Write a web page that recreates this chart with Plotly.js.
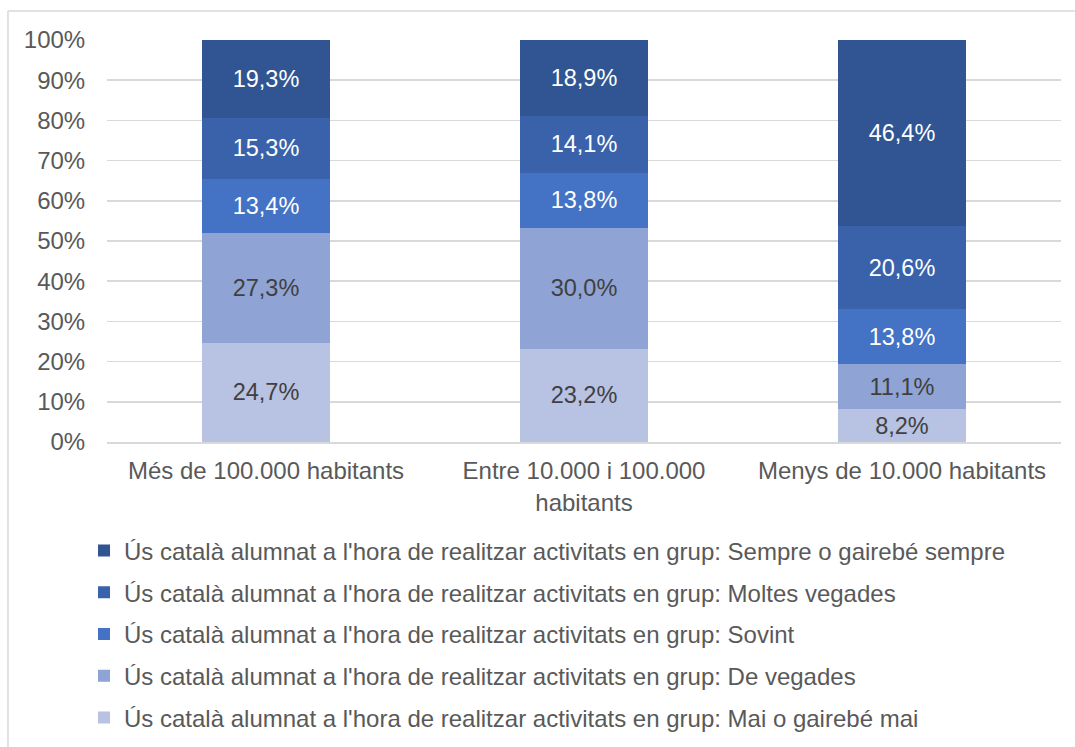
<!DOCTYPE html>
<html>
<head>
<meta charset="utf-8">
<script src="https://cdn.plot.ly/plotly-3.0.1.min.js"></script>
<style>html,body{margin:0;padding:0;background:#fff;}#chart{width:1075px;height:747px;}</style>
</head>
<body>
<div id="chart"></div>
<script>
const categories = ['Més de 100.000 habitants', 'Entre 10.000 i 100.000<br>habitants', 'Menys de 10.000 habitants'];
const seriesNames = [
  "Ús català alumnat a l'hora de realitzar activitats en grup: Mai o gairebé mai",
  "Ús català alumnat a l'hora de realitzar activitats en grup: De vegades",
  "Ús català alumnat a l'hora de realitzar activitats en grup: Sovint",
  "Ús català alumnat a l'hora de realitzar activitats en grup: Moltes vegades",
  "Ús català alumnat a l'hora de realitzar activitats en grup: Sempre o gairebé sempre"
];
const maiValues = [24.7, 23.2, 8.2];
const deVegadesValues = [27.3, 30.0, 11.1];
const sovintValues = [13.4, 13.8, 13.8];
const moltesValues = [15.3, 14.1, 20.6];
const sempreValues = [19.3, 18.9, 46.4];
const yTickVals = [0,10,20,30,40,50,60,70,80,90,100];
const yTickText = ['0%','10%','20%','30%','40%','50%','60%','70%','80%','90%','100%'];

const seriesValues = [maiValues, deVegadesValues, sovintValues, moltesValues, sempreValues];
const colors = ['#B8C2E3', '#8FA3D5', '#4472C4', '#3A62AB', '#305592'];
const textColors = ['#404040', '#404040', '#FFFFFF', '#FFFFFF', '#FFFFFF'];
const FONT = '"Liberation Sans", Arial, sans-serif';

const traces = seriesValues.map((vals, i) => ({
  type: 'bar',
  name: seriesNames[i],
  x: categories,
  y: vals,
  legendgroup: 'g' + i,
  legendrank: 10 - i,
  marker: {color: colors[i], line: {width: 0}},
  texttemplate: '%{y:.1f}%',
  textposition: 'inside',
  insidetextanchor: 'middle',
  textangle: 0,
  constraintext: 'none',
  textfont: {family: FONT, size: 23.5, color: textColors[i]},
  hoverinfo: 'skip'
}));

const layout = {
  width: 1075, height: 747,
  barmode: 'stack',
  bargap: 0.6,
  separators: ',.',
  paper_bgcolor: '#FFFFFF',
  plot_bgcolor: '#FFFFFF',
  font: {family: FONT, size: 24, color: '#595959'},
  margin: {l: 107, r: 14, t: 40, b: 305, autoexpand: false},
  showlegend: true,
  legend: {
    orientation: 'v',
    traceorder: 'grouped',
    tracegroupgap: 7.5,
    x: -0.0241, xanchor: 'left',
    y: -0.2152, yanchor: 'top',
    font: {family: FONT, size: 24, color: '#595959'},
    bgcolor: 'rgba(0,0,0,0)'
  },
  xaxis: {
    type: 'category',
    automargin: false,
    showgrid: false,
    showline: true,
    linecolor: '#D9D9D9',
    linewidth: 1.5,
    ticks: 'outside',
    ticklen: 7,
    tickcolor: 'rgba(0,0,0,0)',
    tickfont: {family: FONT, size: 24, color: '#595959'},
    fixedrange: true
  },
  yaxis: {
    automargin: false,
    range: [0, 100],
    tickvals: yTickVals,
    ticktext: yTickText,
    showgrid: true,
    gridcolor: '#D9D9D9',
    gridwidth: 1.5,
    zeroline: false,
    showline: false,
    ticks: 'outside',
    ticklen: 16,
    tickcolor: 'rgba(0,0,0,0)',
    tickfont: {family: FONT, size: 24, color: '#595959'},
    fixedrange: true
  },
  shapes: [
    {type: 'line', xref: 'paper', yref: 'paper', x0: -0.1038, x1: 1.2, y0: 1.0721, y1: 1.0721, line: {color: '#D9D9D9', width: 1.5}},
    {type: 'line', xref: 'paper', yref: 'paper', x0: -0.1038, x1: -0.1038, y0: 1.0721, y1: -1.0, line: {color: '#D9D9D9', width: 1.5}}
  ]
};

Plotly.newPlot('chart', traces, layout, {displayModeBar: false, staticPlot: true});
</script>
</body>
</html>
